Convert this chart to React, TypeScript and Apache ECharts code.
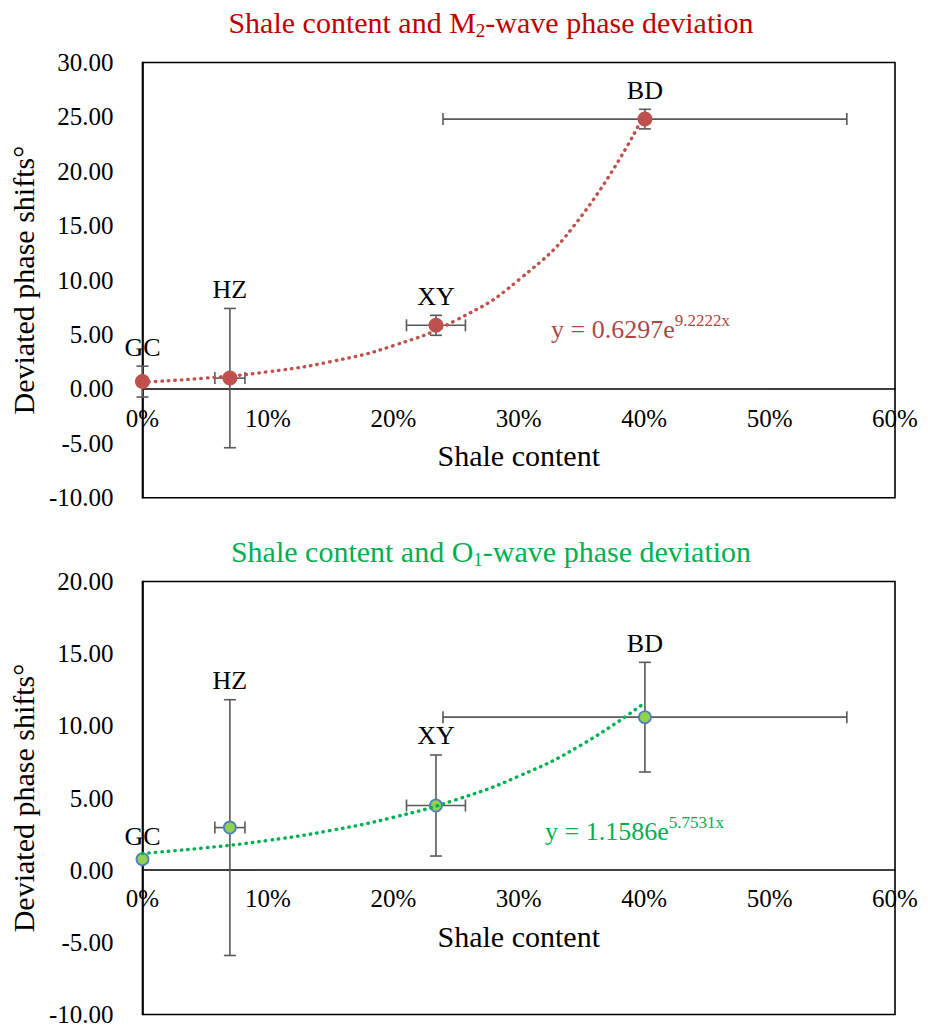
import React, { useEffect, useRef } from "react";
import * as echarts from "echarts";

const sites = ["GC", "HZ", "XY", "BD"];
const shale = [0, 0.0697, 0.234, 0.4006];
const shaleErr = [0, 0.012, 0.0235, 0.161];
const m2Shift = [0.68, 1.0, 5.85, 24.8];
const m2Err = [1.42, 6.4, 0.92, 0.9];
const o1Shift = [0.76, 2.95, 4.48, 10.6];
const o1Err = [0, 8.86, 3.5, 3.8];
const trendX = [0, 0.05, 0.1, 0.15, 0.2, 0.25, 0.3, 0.35, 0.4];
const m2Trend = [0.63, 1.0, 1.58, 2.51, 3.98, 6.32, 10.02, 15.89, 25.19];
const o1Trend = [1.16, 1.55, 2.06, 2.75, 3.66, 4.88, 6.51, 8.68, 11.57];
const m2Title = ["Shale content and M", "2", "-wave phase deviation"];
const o1Title = ["Shale content and O", "1", "-wave phase deviation"];
const m2Eq = ["y = 0.6297e", "9.2222x"];
const o1Eq = ["y = 1.1586e", "5.7531x"];
const xName = "Shale content";
const yName = "Deviated phase shifts°";

const SERIF = '"Liberation Serif", "Times New Roman", serif';
const ERR = "#595959";

function errorRender(params: any, api: any) {
  const i = params.dataIndex;
  const x = api.value(0);
  const y = api.value(1);
  const xe = api.value(2);
  const ye = api.value(3);
  const c = api.coord([x, y]);
  const style = { stroke: ERR, lineWidth: 1.6 };
  const cap = 6;
  const children: any[] = [];
  let topY = c[1] - 4;
  if (ye > 0) {
    const t = api.coord([x, y + ye]);
    const b = api.coord([x, y - ye]);
    children.push({ type: "line", shape: { x1: c[0], y1: t[1], x2: c[0], y2: b[1] }, style });
    children.push({ type: "line", shape: { x1: c[0] - cap, y1: t[1], x2: c[0] + cap, y2: t[1] }, style });
    children.push({ type: "line", shape: { x1: c[0] - cap, y1: b[1], x2: c[0] + cap, y2: b[1] }, style });
    topY = t[1];
  }
  if (xe > 0) {
    const l = api.coord([x - xe, y]);
    const r = api.coord([x + xe, y]);
    children.push({ type: "line", shape: { x1: l[0], y1: c[1], x2: r[0], y2: c[1] }, style });
    children.push({ type: "line", shape: { x1: l[0], y1: c[1] - cap, x2: l[0], y2: c[1] + cap }, style });
    children.push({ type: "line", shape: { x1: r[0], y1: c[1] - cap, x2: r[0], y2: c[1] + cap }, style });
  }
  children.push({
    type: "text",
    x: c[0],
    y: topY - 19,
    style: {
      text: sites[i],
      fill: "#000",
      fontSize: 26,
      fontFamily: SERIF,
      align: "center",
      verticalAlign: "middle",
      textAlign: "center",
      textVerticalAlign: "middle",
    },
  });
  return { type: "group", children };
}

function titleText(parts: string[], color: string, x: number, y: number) {
  return {
    type: "text",
    x,
    y,
    style: {
      text: `{a|${parts[0]}}{s|${parts[1]}}{a|${parts[2]}}`,
      align: "center",
      verticalAlign: "middle",
      rich: {
        a: { fontSize: 30, fontFamily: SERIF, fill: color, color, lineHeight: 36, verticalAlign: "middle" },
        s: { fontSize: 19, fontFamily: SERIF, fill: color, color, lineHeight: 19, verticalAlign: "bottom" },
      },
    },
  };
}

function eqText(parts: string[], color: string, x: number, y: number) {
  return {
    type: "text",
    x,
    y,
    style: {
      text: `{a|${parts[0]}}{b|${parts[1]}}`,
      align: "left",
      verticalAlign: "middle",
      rich: {
        a: { fontSize: 26, fontFamily: SERIF, fill: color, color, lineHeight: 30, verticalAlign: "bottom" },
        b: { fontSize: 17, fontFamily: SERIF, fill: color, color, lineHeight: 17, verticalAlign: "top" },
      },
    },
  };
}

function xAxisOpt(gridIndex: number, offset: number) {
  return {
    type: "value",
    gridIndex,
    min: 0,
    max: 0.6,
    interval: 0.1,
    position: "bottom",
    offset,
    name: xName,
    nameLocation: "middle",
    nameGap: 52,
    nameTextStyle: { fontSize: 30, fontFamily: SERIF, color: "#000" },
    axisLine: { show: true, onZero: false, lineStyle: { color: "#000", width: 1.6 } },
    axisTick: { show: false },
    splitLine: { show: false },
    axisLabel: {
      fontSize: 25,
      fontFamily: SERIF,
      color: "#000",
      margin: 17,
      formatter: (v: number) => `${Math.round(v * 100)}%`,
    },
  };
}

function yAxisOpt(gridIndex: number, min: number, max: number) {
  return {
    type: "value",
    gridIndex,
    min,
    max,
    interval: 5,
    name: yName,
    nameLocation: "middle",
    nameGap: 80,
    nameTextStyle: { fontSize: 30, fontFamily: SERIF, color: "#000" },
    axisLine: { show: true, onZero: false, lineStyle: { color: "#000", width: 1.6 } },
    axisTick: { show: false },
    splitLine: { show: false },
    axisLabel: {
      fontSize: 25,
      fontFamily: SERIF,
      color: "#000",
      margin: 29,
      formatter: (v: number) => v.toFixed(2),
    },
  };
}

export default function App() {
  const ref = useRef<HTMLDivElement>(null);
  useEffect(() => {
    if (!ref.current) return;
    const chart = echarts.init(ref.current, undefined, { renderer: "svg" });
    const m2Data = sites.map((_, i) => [shale[i], m2Shift[i], shaleErr[i], m2Err[i]]);
    const o1Data = sites.map((_, i) => [shale[i], o1Shift[i], shaleErr[i], o1Err[i]]);
    const topH = 435.3;
    const option: any = {
      animation: false,
      backgroundColor: "#fff",
      grid: [
        { left: 141.5, right: 33, top: 62.5, height: topH, show: true, borderColor: "#000", borderWidth: 1.6 },
        { left: 141.5, right: 33, top: 581.5, height: topH, show: true, borderColor: "#000", borderWidth: 1.6 },
      ],
      // x axes drawn at the zero level of the value axis
      xAxis: [xAxisOpt(0, -(topH * 10) / 40), xAxisOpt(1, -(topH * 10) / 30)],
      yAxis: [yAxisOpt(0, -10, 30), yAxisOpt(1, -10, 20)],
      graphic: [
        titleText(m2Title, "#C00000", 491, 22),
        titleText(o1Title, "#00B050", 491, 551),
        eqText(m2Eq, "#AE4744", 551, 327),
        eqText(o1Eq, "#00B050", 545, 829),
      ],
      series: [
        {
          type: "custom",
          xAxisIndex: 0,
          yAxisIndex: 0,
          renderItem: errorRender,
          encode: { x: 0, y: 1 },
          data: m2Data,
          clip: false,
          z: 1,
        },
        {
          type: "line",
          xAxisIndex: 0,
          yAxisIndex: 0,
          data: trendX.map((x, i) => [x, m2Trend[i]]),
          smooth: true,
          showSymbol: false,
          symbol: "none",
          lineStyle: { color: "#C0504D", width: 3.4, type: [0.5, 6], cap: "round" },
          z: 2,
        },
        {
          type: "scatter",
          xAxisIndex: 0,
          yAxisIndex: 0,
          data: shale.map((x, i) => [x, m2Shift[i]]),
          symbolSize: 15,
          itemStyle: { color: "#C0504D", opacity: 1 },
          z: 3,
        },
        {
          type: "custom",
          xAxisIndex: 1,
          yAxisIndex: 1,
          renderItem: errorRender,
          encode: { x: 0, y: 1 },
          data: o1Data,
          clip: false,
          z: 1,
        },
        {
          type: "scatter",
          xAxisIndex: 1,
          yAxisIndex: 1,
          data: shale.map((x, i) => [x, o1Shift[i]]),
          symbolSize: 12,
          itemStyle: { color: "#92D050", borderColor: "#4F81BD", borderWidth: 1.8, opacity: 1 },
          z: 2,
        },
        {
          type: "line",
          xAxisIndex: 1,
          yAxisIndex: 1,
          data: trendX.map((x, i) => [x, o1Trend[i]]),
          smooth: true,
          showSymbol: false,
          symbol: "none",
          lineStyle: { color: "#00B050", width: 3.4, type: [0.5, 6], cap: "round" },
          z: 3,
        },
      ],
    };
    chart.setOption(option);
    return () => chart.dispose();
  }, []);
  return (
    <div
      ref={ref}
      style={{ position: "absolute", left: 0, top: 0, width: 928, height: 1027 }}
    />
  );
}
